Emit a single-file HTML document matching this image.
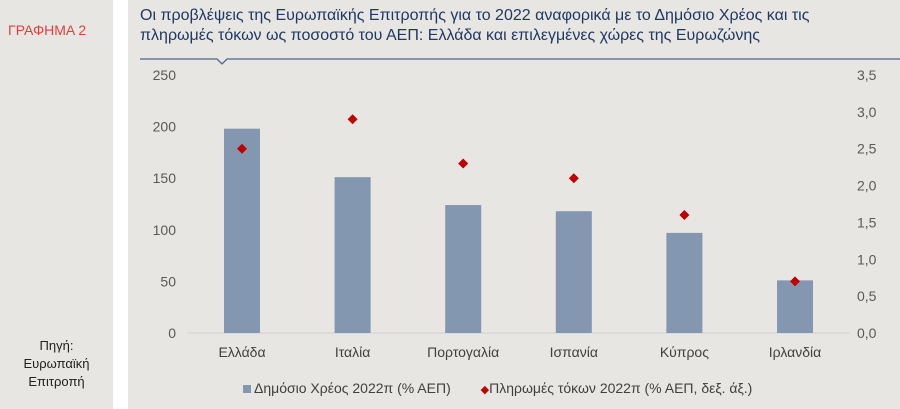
<!DOCTYPE html>
<html><head><meta charset="utf-8"><style>
body{margin:0;width:900px;height:409px;overflow:hidden;background:#fff;font-family:"Liberation Sans",sans-serif;position:relative}
#left{position:absolute;left:0;top:0;width:113px;height:409px;background:#e7e6e3}
#right{position:absolute;left:128px;top:0;width:772px;height:409px;background:#e7e6e3}
.lbl{position:absolute}
</style></head><body>
<div id="left">
<div class="lbl" style="left:8px;top:22px;color:#e0403a;font-size:14px">ΓΡΑΦΗΜΑ 2</div>
<div class="lbl" style="left:0;width:113px;top:337px;text-align:center;color:#222;font-size:13px;line-height:18px">Πηγή:<br>Ευρωπαϊκή<br>Επιτροπή</div>
</div>
<div id="right"></div>
<div class="lbl" style="left:140px;top:6px;color:#1f3864;font-size:16px;line-height:20px">Οι προβλέψεις της Ευρωπαϊκής Επιτροπής για το 2022 αναφορικά με το Δημόσιο Χρέος και τις<br>πληρωμές τόκων ως ποσοστό του ΑΕΠ: Ελλάδα και επιλεγμένες χώρες της Ευρωζώνης</div>
<svg id="chart" width="900" height="409" style="position:absolute;left:0;top:0">
<polyline points="140,59 217,59 222,64 227,59 900,59" fill="none" stroke="#4a6890" stroke-width="1.3"/>
</svg>
<script>
const categories=["Ελλάδα","Ιταλία","Πορτογαλία","Ισπανία","Κύπρος","Ιρλανδία"];
const debt=[198,151,124,118,97,51];
const interest=[2.5,2.9,2.3,2.1,1.6,0.7];
const leftTicks=["0","50","100","150","200","250"];
const rightTicks=["0,0","0,5","1,0","1,5","2,0","2,5","3,0","3,5"];
const svg=document.getElementById('chart');
const NS='http://www.w3.org/2000/svg';
const y0=333,yTop=75;
const yL=v=>y0-v/250*(y0-yTop);
const yR=v=>y0-v/3.5*(y0-yTop);
const xC=i=>242+i*110.6;
function mk(t,a){const e=document.createElementNS(NS,t);for(const k in a)e.setAttribute(k,a[k]);svg.appendChild(e);return e;}
let base=mk('line',{x1:187,x2:850,y1:y0,y2:y0,stroke:'#d0d0d0','stroke-width':1});


leftTicks.forEach(t=>{const e=mk('text',{x:176,y:yL(+t)+5,'text-anchor':'end','font-size':14,fill:'#595959','font-family':'Liberation Sans'});e.textContent=t;

});
rightTicks.forEach(t=>{const e=mk('text',{x:857,y:yR(parseFloat(t.replace(',','.')))+5,'font-size':14,fill:'#595959','font-family':'Liberation Sans'});e.textContent=t;

});
categories.forEach((c,i)=>{
const b=mk('rect',{x:xC(i)-18,y:yL(debt[i]),width:36,height:y0-yL(debt[i]),fill:'#8497b0'});


const y=yR(interest[i]),x=xC(i);
const d=mk('polygon',{points:`${x},${y-5} ${x+5},${y} ${x},${y+5} ${x-5},${y}`,fill:'#c00000'});


const t=mk('text',{x:x,y:357,'text-anchor':'middle','font-size':14,fill:'#404040','font-family':'Liberation Sans'});t.textContent=c;


});
</script>
<div class="lbl" style="left:243px;top:380px;font-size:14px;color:#404040;white-space:nowrap">
<span><span style="display:inline-block;width:8px;height:8px;background:#8497b0;margin-right:3px"></span>Δημόσιο Χρέος 2022π (% ΑΕΠ)</span>
<span style="margin-left:26px"><span style="color:#c00000;font-size:11px">◆</span>Πληρωμές τόκων 2022π (% ΑΕΠ, δεξ. άξ.)</span>
</div>
</body></html>
